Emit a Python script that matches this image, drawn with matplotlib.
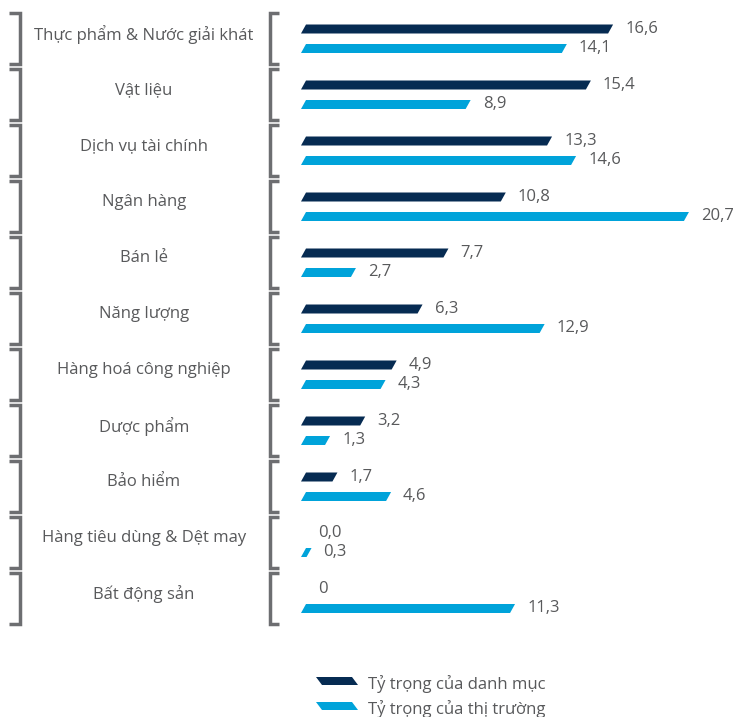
import matplotlib.pyplot as plt
from matplotlib.patches import Polygon

# Data
categories = [
    "Thực phẩm & Nước giải khát",
    "Vật liệu",
    "Dịch vụ tài chính",
    "Ngân hàng",
    "Bán lẻ",
    "Năng lượng",
    "Hàng hoá công nghiệp",
    "Dược phẩm",
    "Bảo hiểm",
    "Hàng tiêu dùng & Dệt may",
    "Bất động sản",
]
portfolio = [16.6, 15.4, 13.3, 10.8, 7.7, 6.3, 4.9, 3.2, 1.7, 0.0, 0.0]
portfolio_labels = ["16,6", "15,4", "13,3", "10,8", "7,7", "6,3", "4,9", "3,2", "1,7", "0,0", "0"]
market = [14.1, 8.9, 14.6, 20.7, 2.7, 12.9, 4.3, 1.3, 4.6, 0.3, 11.3]
market_labels = ["14,1", "8,9", "14,6", "20,7", "2,7", "12,9", "4,3", "1,3", "4,6", "0,3", "11,3"]
series_names = ["Tỷ trọng của danh mục", "Tỷ trọng của thị trường"]

DARK = "#062b52"
LIGHT = "#00a3da"
GRAY = "#6d6e71"
TEXT = "#58595b"
FONT = ["Open Sans", "DejaVu Sans"]

W, H = 733, 717          # figure size in pixels
PX_PER_UNIT = 18.5       # horizontal scale (pixels per percentage point)
X0_PX = 301              # pixel where value 0 starts
ROW_PX = 56              # vertical distance between categories
ROW0_PX = 38.5           # centre of the first row


def main() -> None:
    fig = plt.figure(figsize=(W / 100, H / 100), dpi=100)
    ax = fig.add_axes([0, 0, 1, 1])
    ax.set_xlim(-X0_PX / PX_PER_UNIT, (W - X0_PX) / PX_PER_UNIT)
    ax.set_ylim((H - ROW0_PX) / ROW_PX, -ROW0_PX / ROW_PX)
    ax.axis("off")

    slant = 5 / PX_PER_UNIT
    half_h = 4.5 / ROW_PX
    gap = 12 / PX_PER_UNIT

    def bar(value, yc, color):
        if value <= 0:
            return
        verts = [(0, yc + half_h), (value, yc + half_h),
                 (value + slant, yc - half_h), (slant, yc - half_h)]
        ax.add_patch(Polygon(verts, closed=True, facecolor=color, edgecolor="none"))

    ytr = ax.get_yaxis_transform()
    bh = 25.5 / ROW_PX
    for i, name in enumerate(categories):
        y_dark = i - 9.5 / ROW_PX
        y_light = i + 10 / ROW_PX
        bar(portfolio[i], y_dark, DARK)
        bar(market[i], y_light, LIGHT)
        ax.text(portfolio[i] + slant + gap, y_dark, portfolio_labels[i],
                ha="left", va="center", fontsize=12, color=TEXT, family=FONT)
        ax.text(market[i] + slant + gap, y_light, market_labels[i],
                ha="left", va="center", fontsize=12, color=TEXT, family=FONT)

        # category label between the brackets
        ax.text(144 / W, i - 4 / ROW_PX, name, transform=ytr,
                ha="center", va="center", fontsize=12, color=TEXT, family=FONT)

        # left "]" and right "[" brackets
        ax.plot([9 / W, 19.5 / W, 19.5 / W, 9 / W], [i - bh, i - bh, i + bh, i + bh],
                transform=ytr, color=GRAY, lw=2.5, solid_joinstyle="miter",
                solid_capstyle="butt")
        ax.plot([279 / W, 269.5 / W, 269.5 / W, 279 / W], [i - bh, i - bh, i + bh, i + bh],
                transform=ytr, color=GRAY, lw=2.5, solid_joinstyle="miter",
                solid_capstyle="butt")

    # legend, drawn by hand to keep the slanted swatches
    for j, (label, color) in enumerate(zip(series_names, [DARK, LIGHT])):
        yc = 681 + 25 * j
        top, bot = 1 - (yc - 4) / H, 1 - (yc + 4) / H
        verts = [(316 / W, top), (352 / W, top), (358 / W, bot), (322 / W, bot)]
        ax.add_patch(Polygon(verts, closed=True, transform=ax.transAxes,
                             facecolor=color, edgecolor="none"))
        ax.text(368 / W, 1 - (yc + 3) / H, label, transform=ax.transAxes,
                ha="left", va="center", fontsize=12, color=TEXT, family=FONT)

    fig.savefig("out.png", dpi=100)


if __name__ == "__main__":
    main()
